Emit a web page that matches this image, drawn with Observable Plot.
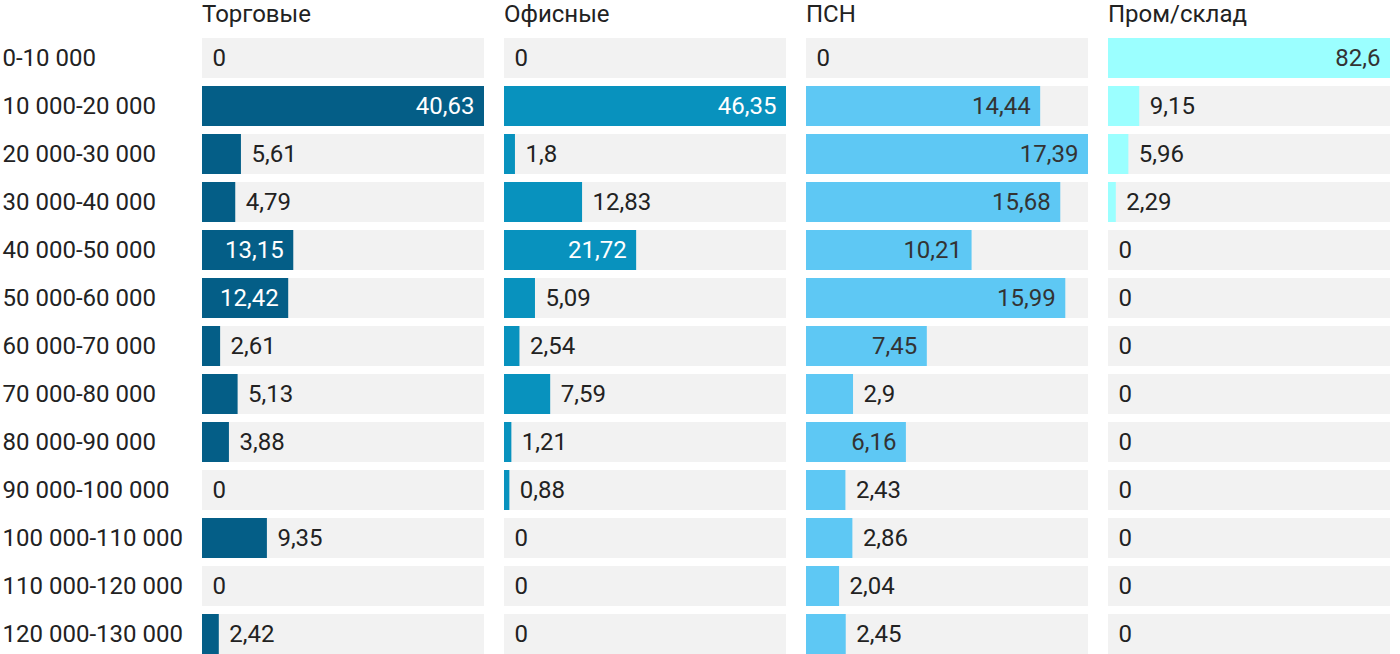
<!DOCTYPE html>
<html>
<head>
<meta charset="utf-8">
<script src="https://cdn.jsdelivr.net/npm/d3@7"></script>
<script src="https://cdn.jsdelivr.net/npm/@observablehq/plot@0.6"></script>
<style>
  html, body { margin: 0; padding: 0; background: #fff; }
  body { font-family: Roboto, "Noto Sans", sans-serif; color: #333; }
  #wrap { position: relative; width: 1400px; height: 654px; overflow: hidden; }
  .title { position: absolute; top: 2px; font-size: 24px; line-height: 24px; color: #222; white-space: nowrap; }
  .panel { position: absolute; top: 34px; }
  svg { overflow: visible; }
</style>
</head>
<body>
<div id="wrap"></div>
<script>
const categories = ["0-10 000", "10 000-20 000", "20 000-30 000", "30 000-40 000", "40 000-50 000",
  "50 000-60 000", "60 000-70 000", "70 000-80 000", "80 000-90 000", "90 000-100 000",
  "100 000-110 000", "110 000-120 000", "120 000-130 000"];
const seriesNames = ["Торговые", "Офисные", "ПСН", "Пром/склад"];
const torgovye = [0, 40.63, 5.61, 4.79, 13.15, 12.42, 2.61, 5.13, 3.88, 0, 9.35, 0, 2.42];
const ofisnye = [0, 46.35, 1.8, 12.83, 21.72, 5.09, 2.54, 7.59, 1.21, 0.88, 0, 0, 0];
const psn = [0, 14.44, 17.39, 15.68, 10.21, 15.99, 7.45, 2.9, 6.16, 2.43, 2.86, 2.04, 2.45];
const promsklad = [82.6, 9.15, 5.96, 2.29, 0, 0, 0, 0, 0, 0, 0, 0, 0];
const seriesValues = [torgovye, ofisnye, psn, promsklad];
const colors = ["#045e87", "#0892be", "#5ec8f4", "#9bffff"];
const insideText = ["#ffffff", "#ffffff", "#333333", "#333333"];

const wrap = document.getElementById("wrap");
const panelLefts = [202, 504, 806, 1108];
const panelWidth = 282;
const fmt = v => String(v).replace(".", ",");

seriesNames.forEach((name, i) => {
  const t = document.createElement("div");
  t.className = "title";
  t.style.left = panelLefts[i] + "px";
  t.textContent = name;
  wrap.appendChild(t);

  const vals = seriesValues[i];
  const max = d3.max(vals);
  const data = categories.map((c, j) => ({cat: c, value: vals[j]}));
  const first = i === 0;
  const marginLeft = first ? 202 : 0;
  const pxPerUnit = panelWidth / max;
  const inside = d => d.value * pxPerUnit > 82;

  const chart = Plot.plot({
    width: panelWidth + marginLeft,
    height: 624,
    marginLeft,
    marginRight: 0,
    marginTop: 0,
    marginBottom: 0,
    style: {fontFamily: "Roboto, sans-serif", fontSize: "24px", color: "#333", background: "transparent", overflow: "visible"},
    x: {domain: [0, max], axis: null},
    y: {domain: categories, paddingInner: 1/6, paddingOuter: 1/12, axis: null},
    marks: [
      first ? Plot.axisY({anchor: "left", tickSize: 0, tickPadding: 0, textAnchor: "start", dx: -200, fontSize: 24, fill: "#222", label: null}) : null,
      Plot.barX(categories, {y: d => d, x1: 0, x2: max, fill: "#f2f2f2"}),
      Plot.barX(data.filter(d => d.value > 0), {y: "cat", x1: 0, x2: "value", fill: colors[i]}),
      Plot.text(data.filter(inside), {y: "cat", x: "value", text: d => fmt(d.value), textAnchor: "end", dx: -10, fill: insideText[i], fontSize: 24}),
      Plot.text(data.filter(d => !inside(d)), {y: "cat", x: "value", text: d => fmt(d.value), textAnchor: "start", dx: 10, fill: "#222", fontSize: 24})
    ].filter(Boolean)
  });
  const p = document.createElement("div");
  p.className = "panel";
  p.style.left = (panelLefts[i] - marginLeft) + "px";
  p.appendChild(chart);
  wrap.appendChild(p);
});
</script>
</body>
</html>
